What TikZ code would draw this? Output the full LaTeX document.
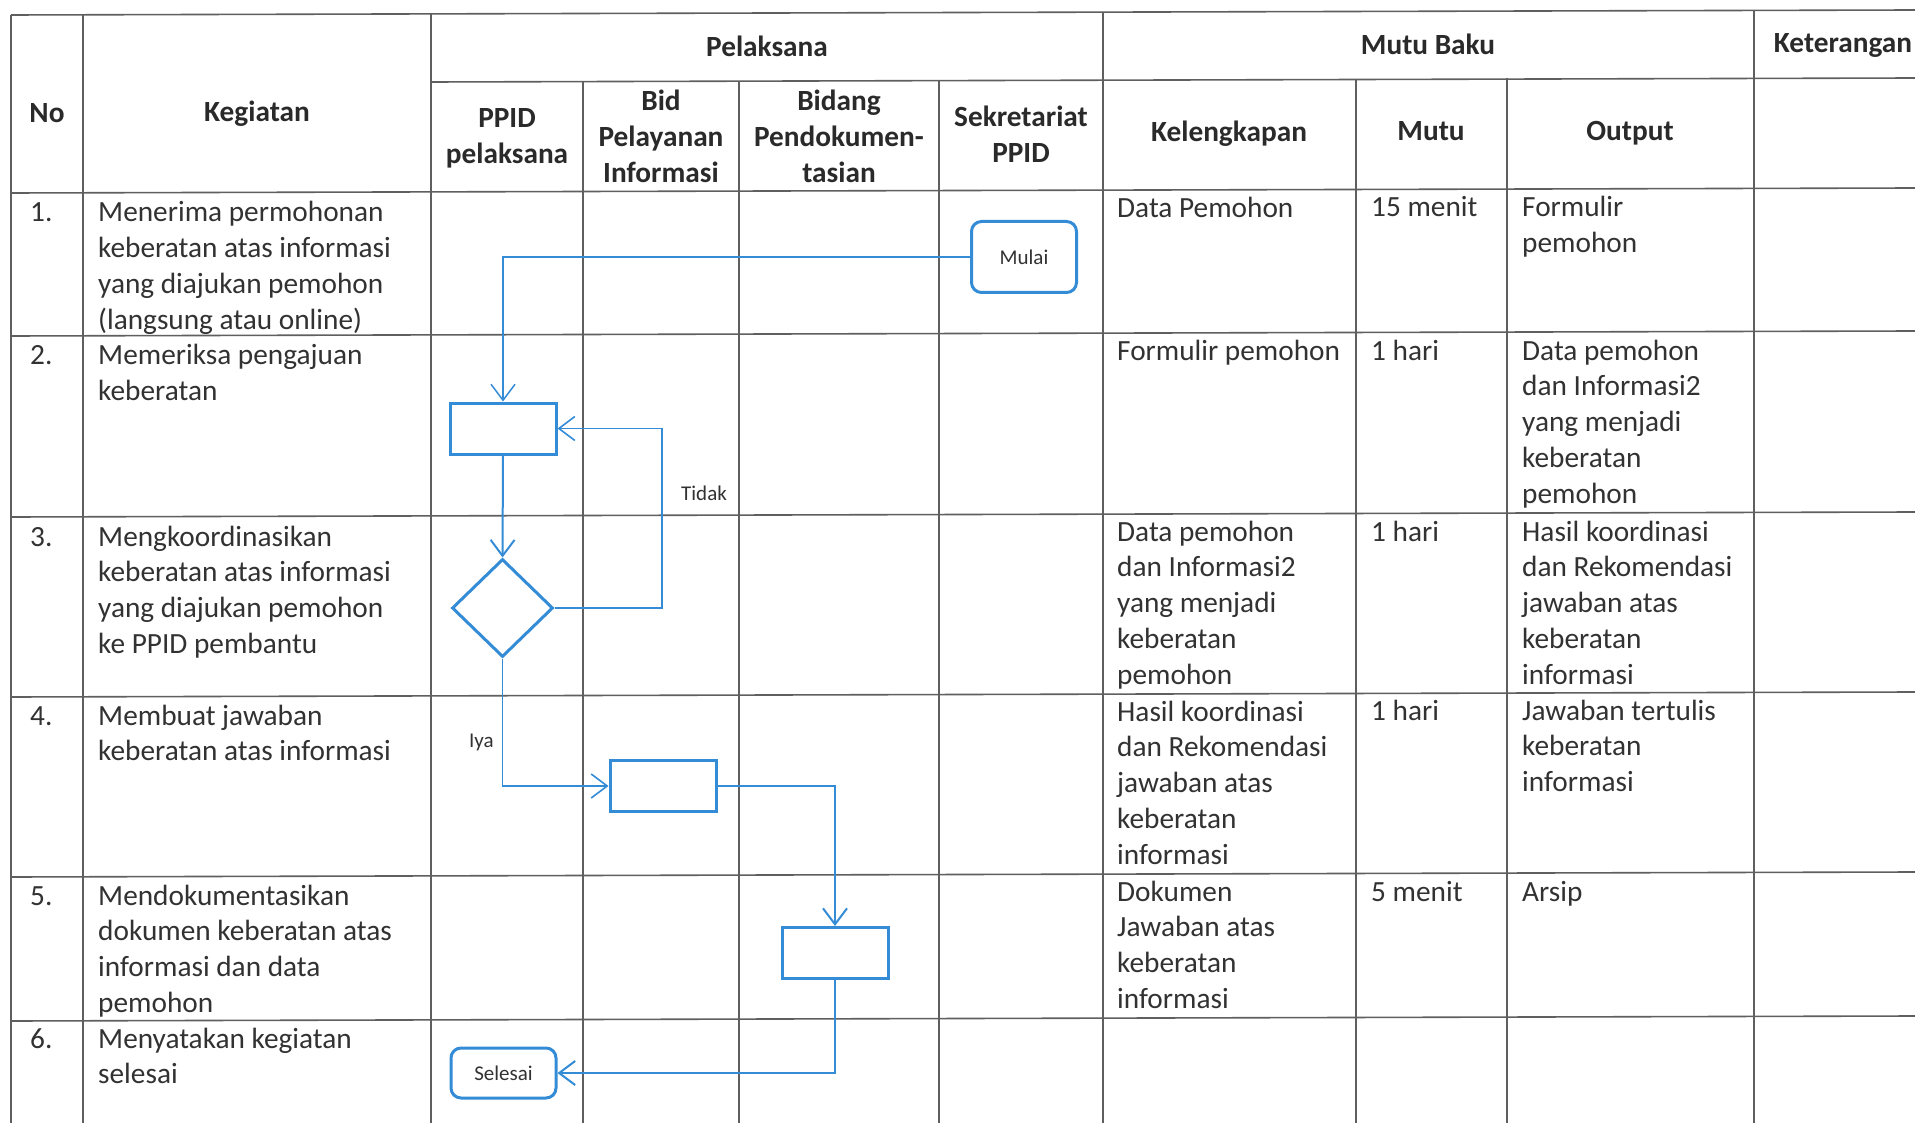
\documentclass[tikz,border=0pt]{standalone}
\usepackage{fontspec}
\setmainfont{Carlito}
\usetikzlibrary{arrows.meta,shapes.geometric,calc}
\definecolor{flow}{RGB}{52,140,215}
\definecolor{txt}{RGB}{50,50,50}
\definecolor{headc}{RGB}{42,42,42}
\definecolor{gridc}{RGB}{95,95,95}
\newcommand\mycell[1]{\parbox[t]{400pt}{\raggedright #1}}
\newcommand\myhead[2]{\parbox[t]{#1}{\centering #2}}
\begin{document}
\begin{tikzpicture}[x=1pt,y=-1pt,
  gridline/.style={draw=gridc,line width=1.6pt},
  body/.style={anchor=base west,inner sep=0pt,text=txt,font=\fontsize{29.3}{35.8}\selectfont},
  head/.style={anchor=base,inner sep=0pt,text=headc,font=\bfseries\fontsize{29.3}{35.8}\selectfont},
  stepbox/.style={draw=flow,line width=3pt,minimum width=106pt,minimum height=51pt,inner sep=0pt},
  termbox/.style={draw=flow,line width=3pt,rounded corners=10pt,minimum width=105pt,minimum height=50pt,inner sep=0pt,text=txt,font=\fontsize{21}{25}\selectfont},
  decision/.style={diamond,draw=flow,line width=3pt,minimum width=101pt,minimum height=98pt,inner sep=0pt},
  conn/.style={draw=flow,line width=2pt,-{Straight Barb[length=16pt,width=24pt]}},
  lbl/.style={anchor=base west,inner sep=0pt,text=txt,font=\fontsize{21}{25}\selectfont}
]
\useasboundingbox (0,0) rectangle (1915,1123);
\fill[white] (0,0) rectangle (1915,1123);
\clip (0,0) rectangle (1915,1123);

% ---------- table grid ----------
\draw[gridline] (11,15) -- (1915,10);
\draw[gridline] (431,82) -- (1915,78);
\draw[gridline] (11,193) -- (1915,188);
\draw[gridline] (11,336) -- (1915,331);
\draw[gridline] (11,517) -- (1915,512);
\draw[gridline] (11,697) -- (1915,692);
\draw[gridline] (11,877) -- (1915,872);
\draw[gridline] (11,1021) -- (1915,1016);
\foreach \xx/\yy in {11/15,83/15,431/14,1103/12,1754/10}
  \draw[gridline] (\xx,\yy) -- (\xx,1123);
\foreach \xx/\yy in {583/82,739/81,939/80,1356/79,1507/78}
  \draw[gridline] (\xx,\yy) -- (\xx,1123);

% ---------- headers ----------
\node[head] (hNo) at (47,123) {No};
\node[head] (hKeg) at (257,122) {Kegiatan};
\node[head] (hPel) at (767,57) {Pelaksana};
\node[head] (hMB) at (1428,55) {Mutu Baku};
\node[head] (hKet) at (1843,53) {Keterangan};
\node[head] (hPPID) at (507,128) {\myhead{150pt}{PPID\\pelaksana}};
\node[head] (hBid) at (661,111) {\myhead{150pt}{Bid\\Pelayanan\\Informasi}};
\node[head] (hBidang) at (839,111) {\myhead{200pt}{Bidang\\Pendokumen-\\tasian}};
\node[head] (hSek) at (1021,127) {\myhead{160pt}{Sekretariat\\PPID}};
\node[head] (hKel) at (1229,142) {Kelengkapan};
\node[head] (hMutu) at (1431,141) {Mutu};
\node[head] (hOut) at (1630,141) {Output};

% ---------- row numbers ----------
\node[body] (n1) at (30,222) {1.};
\node[body] (n2) at (30,365) {2.};
\node[body] (n3) at (30,546) {3.};
\node[body] (n4) at (30,725) {4.};
\node[body] (n5) at (30,905) {5.};
\node[body] (n6) at (30,1048) {6.};

% ---------- kegiatan ----------
\node[body] (k1) at (98,222) {\mycell{Menerima permohonan\\keberatan atas informasi\\yang diajukan pemohon\\(langsung atau online)}};
\node[body] (k2) at (98,365) {\mycell{Memeriksa pengajuan\\keberatan}};
\node[body] (k3) at (98,546) {\mycell{Mengkoordinasikan\\keberatan atas informasi\\yang diajukan pemohon\\ke PPID pembantu}};
\node[body] (k4) at (98,725) {\mycell{Membuat jawaban\\keberatan atas informasi}};
\node[body] (k5) at (98,905) {\mycell{Mendokumentasikan\\dokumen keberatan atas\\informasi dan data\\pemohon}};
\node[body] (k6) at (98,1048) {\mycell{Menyatakan kegiatan\\selesai}};

% ---------- kelengkapan ----------
\node[body] (l1) at (1117,218) {Data Pemohon};
\node[body] (l2) at (1117,361) {Formulir pemohon};
\node[body] (l3) at (1117,541) {\mycell{Data pemohon\\dan Informasi2\\yang menjadi\\keberatan\\pemohon}};
\node[body] (l4) at (1117,721) {\mycell{Hasil koordinasi\\dan Rekomendasi\\jawaban atas\\keberatan\\informasi}};
\node[body] (l5) at (1117,901) {\mycell{Dokumen\\Jawaban atas\\keberatan\\informasi}};

% ---------- mutu ----------
\node[body] (m1) at (1371,217) {15 menit};
\node[body] (m2) at (1371,360) {1 hari};
\node[body] (m3) at (1371,541) {1 hari};
\node[body] (m4) at (1371,720) {1 hari};
\node[body] (m5) at (1371,901) {5 menit};

% ---------- output ----------
\node[body] (o1) at (1522,217) {\mycell{Formulir\\pemohon}};
\node[body] (o2) at (1522,360) {\mycell{Data pemohon\\dan Informasi2\\yang menjadi\\keberatan\\pemohon}};
\node[body] (o3) at (1522,541) {\mycell{Hasil koordinasi\\dan Rekomendasi\\jawaban atas\\keberatan\\informasi}};
\node[body] (o4) at (1522,720) {\mycell{Jawaban tertulis\\keberatan\\informasi}};
\node[body] (o5) at (1522,901) {Arsip};

% ---------- flowchart ----------
\node[termbox,minimum height=71pt] (mulai) at (1024,257) {Mulai};
\node[stepbox] (b1) at (503,428.5) {};
\node[decision] (d1) at (502.5,608) {};
\node[stepbox] (b2) at (663,786) {};
\node[stepbox] (b3) at (835,953) {};
\node[termbox] (selesai) at (503.5,1073) {Selesai};
\coordinate (tk) at (662,428.5);

\draw[conn,line width=1.5pt] (mulai.west) -| (b1.north);
\draw[conn] (b1.south) -- (d1.north);
\draw[conn,line width=1.6pt] (d1.east) -| (tk) -- (b1.east);
\draw[conn,line width=1.6pt] (d1.south) |- (b2.west);
\draw[conn] (b2.east) -| (b3.north);
\draw[conn] (b3.south) |- (selesai.east);

\node[lbl] (tidak) at (681,500) {Tidak};
\node[lbl] (iya) at (469,747) {Iya};
\end{tikzpicture}
\end{document}
